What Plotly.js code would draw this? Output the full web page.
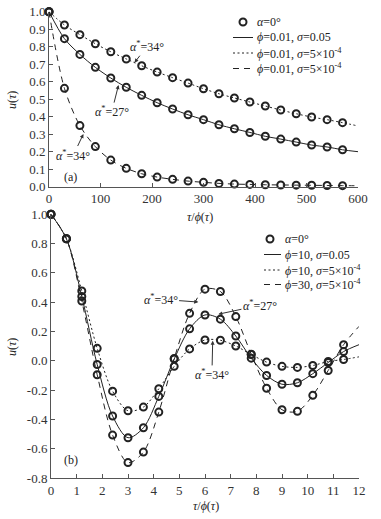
<!DOCTYPE html>
<html><head><meta charset="utf-8">
<script src="https://cdn.plot.ly/plotly-3.0.1.min.js"></script>
<style>html,body{margin:0;padding:0;background:#fff;}</style>
</head><body><div id="chart" style="width:381px;height:519px;"></div>
<script>
// ---------- Panel (a) ----------
const topX = [0,30,60,90,120,150,180,210,240,270,300,330,360,390,420,450,480,510,540,570];
const topDotted = [1.0,0.924,0.869,0.817,0.771,0.730,0.691,0.655,0.623,0.592,0.560,0.531,0.507,0.484,0.461,0.438,0.417,0.398,0.383,0.366];
const topSolid  = [1.0,0.846,0.756,0.682,0.621,0.568,0.522,0.480,0.444,0.411,0.383,0.354,0.331,0.310,0.288,0.272,0.255,0.238,0.227,0.211];
const topDashed = [1.0,0.562,0.349,0.229,0.152,0.105,0.074,0.055,0.042,0.032,0.025,0.019,0.015,0.013,0.011,0.010,0.009,0.008,0.007,0.006];
const topLineX = [0,30,60,90,120,150,180,210,240,270,300,330,360,390,420,450,480,510,540,570,600];
const topDottedLine = [1.0,0.924,0.869,0.817,0.771,0.730,0.691,0.655,0.623,0.592,0.560,0.531,0.507,0.484,0.461,0.438,0.417,0.398,0.383,0.366,0.347];
const topSolidLine  = [1.0,0.846,0.756,0.682,0.621,0.568,0.522,0.480,0.444,0.411,0.383,0.354,0.331,0.310,0.288,0.272,0.255,0.238,0.227,0.211,0.200];
const topDashedLine = [1.0,0.562,0.349,0.229,0.152,0.105,0.074,0.055,0.042,0.032,0.025,0.019,0.015,0.013,0.011,0.010,0.009,0.008,0.007,0.006,0.005];
const topNames = ['<i>α</i>=0°','<i>ϕ</i>=0.01, <i>σ</i>=0.05','<i>ϕ</i>=0.01, <i>σ</i>=5×10<sup>-4</sup>','<i>ϕ</i>=0.01, <i>σ</i>=5×10<sup>-4</sup>'];
const topXTicks = [0,100,200,300,400,500,600];
const topYTicks = [0,0.1,0.2,0.3,0.4,0.5,0.6,0.7,0.8,0.9,1.0];
const topYLabels = ['0.0','0.1','0.2','0.3','0.4','0.5','0.6','0.7','0.8','0.9','1.0'];

// ---------- Panel (b) ----------
const botX = [0,0.6,1.2,1.8,2.4,3.0,3.6,4.2,4.8,5.4,6.0,6.6,7.2,7.8,8.4,9.0,9.6,10.2,10.8,11.4];
const botDotted = [1.0,0.833,0.477,0.085,-0.207,-0.341,-0.316,-0.191,-0.038,0.081,0.142,0.140,0.101,0.043,-0.009,-0.038,-0.045,-0.032,-0.005,0.009];
const botSolid  = [1.0,0.833,0.439,-0.025,-0.377,-0.525,-0.457,-0.243,0.012,0.218,0.313,0.284,0.169,0.018,-0.100,-0.160,-0.150,-0.088,-0.012,0.063];
const botDashed = [1.0,0.833,0.408,-0.095,-0.507,-0.695,-0.623,-0.350,0.016,0.324,0.489,0.473,0.302,0.045,-0.187,-0.334,-0.345,-0.236,-0.066,0.110];
const botLineX = [0,0.6,1.2,1.8,2.4,3.0,3.6,4.2,4.8,5.4,6.0,6.6,7.2,7.8,8.4,9.0,9.6,10.2,10.8,11.4,12];
const botDottedLine = [1.0,0.833,0.477,0.085,-0.207,-0.341,-0.316,-0.191,-0.038,0.081,0.142,0.140,0.101,0.043,-0.009,-0.038,-0.045,-0.032,-0.005,0.009,0.027];
const botSolidLine  = [1.0,0.833,0.439,-0.025,-0.377,-0.525,-0.457,-0.243,0.012,0.218,0.313,0.284,0.169,0.018,-0.100,-0.160,-0.150,-0.088,-0.012,0.063,0.110];
const botDashedLine = [1.0,0.833,0.408,-0.095,-0.507,-0.695,-0.623,-0.350,0.016,0.324,0.489,0.473,0.302,0.045,-0.187,-0.334,-0.345,-0.236,-0.066,0.110,0.235];
const botNames = ['<i>α</i>=0°','<i>ϕ</i>=10, <i>σ</i>=0.05','<i>ϕ</i>=10, <i>σ</i>=5×10<sup>-4</sup>','<i>ϕ</i>=30, <i>σ</i>=5×10<sup>-4</sup>'];
const botXTicks = [0,1,2,3,4,5,6,7,8,9,10,11,12];
const botYTicks = [-0.8,-0.6,-0.4,-0.2,0,0.2,0.4,0.6,0.8,1.0];
const botYLabels = ['-0.8','-0.6','-0.4','-0.2','0.0','0.2','0.4','0.6','0.8','1.0'];

// ---------- styling ----------
const FONT = 'Liberation Serif, Times New Roman, DejaVu Serif, serif';
const INK = '#222';
const DOT = '2px,2.5px';
const DASH = '6px,5px';
const STYLES = ['solid', DOT, DASH];

function lineTrace(x, y, dash, name, xa, ya) {
  return {x: x, y: y, type: 'scatter', mode: 'lines', name: name, xaxis: xa, yaxis: ya,
    showlegend: false, cliponaxis: false, hoverinfo: 'skip',
    line: {color: INK, width: 1, dash: dash, shape: 'spline', smoothing: 0.9}};
}
function markTrace(x, y, name, xa, ya) {
  return {x: x, y: y, type: 'scatter', mode: 'markers', name: name, xaxis: xa, yaxis: ya,
    showlegend: false, cliponaxis: false, hoverinfo: 'skip',
    marker: {symbol: 'circle-open', size: 7, color: INK, line: {width: 2, color: INK}}};
}

const data = [
  lineTrace(topLineX, topSolidLine, STYLES[0], topNames[1], 'x', 'y'),
  lineTrace(topLineX, topDottedLine, STYLES[1], topNames[2], 'x', 'y'),
  lineTrace(topLineX, topDashedLine, STYLES[2], topNames[3], 'x', 'y'),
  markTrace(topX, topDotted, topNames[0], 'x', 'y'),
  markTrace(topX, topSolid, topNames[0], 'x', 'y'),
  markTrace(topX, topDashed, topNames[0], 'x', 'y'),
  lineTrace(botLineX, botSolidLine, STYLES[0], botNames[1], 'x2', 'y2'),
  lineTrace(botLineX, botDottedLine, STYLES[1], botNames[2], 'x2', 'y2'),
  lineTrace(botLineX, botDashedLine, STYLES[2], botNames[3], 'x2', 'y2'),
  markTrace(botX, botDotted, botNames[0], 'x2', 'y2'),
  markTrace(botX, botSolid, botNames[0], 'x2', 'y2'),
  markTrace(botX, botDashed, botNames[0], 'x2', 'y2')
];

const W = 381, H = 519;
function axisCommon() {
  return {showline: true, linecolor: '#555', linewidth: 1, ticks: 'inside', ticklen: 4,
    tickcolor: '#555', tickwidth: 1, showgrid: false, zeroline: false, fixedrange: true,
    tickfont: {family: FONT, size: 13, color: '#333'}};
}
const xa1 = Object.assign(axisCommon(), {domain: [49/W, 358/W], range: [0, 600], tickvals: topXTicks, anchor: 'y'});
const ya1 = Object.assign(axisCommon(), {domain: [1-186.7/H, 1-11.7/H], range: [0, 1], tickvals: topYTicks, ticktext: topYLabels, anchor: 'x'});
const xa2 = Object.assign(axisCommon(), {domain: [51/W, 359/W], range: [0, 12], tickvals: botXTicks, anchor: 'y2'});
const ya2 = Object.assign(axisCommon(), {domain: [1-478/H, 1-214.3/H], range: [-0.8, 1.0], tickvals: botYTicks, ticktext: botYLabels, anchor: 'x2'});

const af = {family: FONT, size: 12, color: INK};
function arrowAnn(x, y, ax, ay, xr, yr, text) {
  return {x: x, y: y, ax: ax, ay: ay, xref: xr, yref: yr, axref: xr, ayref: yr, text: text,
    showarrow: true, arrowhead: 2, arrowsize: 0.8, arrowwidth: 1, arrowcolor: '#333',
    standoff: 0, startstandoff: 0, font: af};
}
function textAnn(x, y, xr, yr, text, angle, anchor) {
  return {x: x, y: y, xref: xr, yref: yr, text: text, showarrow: false, font: af,
    textangle: angle || 0, xanchor: anchor || 'center', yanchor: 'middle'};
}
const A34 = '<i>α</i><sup>*</sup>=34°', A27 = '<i>α</i><sup>*</sup>=27°';
const annotations = [
  arrowAnn(166, 0.709, 190, 0.80, 'x', 'y', A34),
  arrowAnn(135, 0.581, 122, 0.429, 'x', 'y', A27),
  arrowAnn(66.8, 0.301, 47.3, 0.181, 'x', 'y', A34),
  textAnn(41, 0.057, 'x', 'y', '(a)'),
  arrowAnn(5.74, 0.401, 4.27, 0.42, 'x2', 'y2', A34),
  arrowAnn(6.52, 0.318, 8.14, 0.379, 'x2', 'y2', A27),
  arrowAnn(6.3, 0.137, 6.27, -0.093, 'x2', 'y2', A34),
  textAnn(0.77, -0.675, 'x2', 'y2', '(b)'),
  textAnn(200/W, 1-217/H, 'paper', 'paper', '<i>τ</i>/<i>ϕ</i>(<i>τ</i>)'),
  textAnn(12/W, 1-100/H, 'paper', 'paper', '<i>u</i>(<i>τ</i>)', -90),
  textAnn(206/W, 1-506/H, 'paper', 'paper', '<i>τ</i>/<i>ϕ</i>(<i>τ</i>)'),
  textAnn(12/W, 1-347/H, 'paper', 'paper', '<i>u</i>(<i>τ</i>)', -90)
];

// ---------- compact legends (keys drawn as shapes, labels as text) ----------
const shapes = [];
function addLegend(names, rows, keyX0, keyX1, markX, textX) {
  const r = 3.5;
  shapes.push({type: 'circle', xref: 'paper', yref: 'paper',
    x0: (markX - r)/W, x1: (markX + r)/W, y0: 1-(rows[0] + r)/H, y1: 1-(rows[0] - r)/H,
    line: {color: INK, width: 2}, fillcolor: 'rgba(0,0,0,0)'});
  for (let i = 1; i < 4; i++) {
    shapes.push({type: 'line', xref: 'paper', yref: 'paper',
      x0: keyX0/W, x1: keyX1/W, y0: 1-rows[i]/H, y1: 1-rows[i]/H,
      line: {color: INK, width: 1, dash: STYLES[i-1]}});
  }
  for (let i = 0; i < 4; i++) {
    annotations.push(textAnn(textX/W, 1-rows[i]/H, 'paper', 'paper', names[i], 0, 'left'));
  }
}
addLegend(topNames, [22, 37.5, 53, 68.5], 233, 253, 243, 255);
addLegend(botNames, [239, 254.5, 270, 284.5], 264, 281, 270, 283);

const layout = {
  width: W, height: H, margin: {l: 0, r: 0, t: 0, b: 0, pad: 0},
  paper_bgcolor: '#fff', plot_bgcolor: 'rgba(0,0,0,0)',
  font: {family: FONT, size: 12, color: INK},
  showlegend: false,
  xaxis: xa1, yaxis: ya1, xaxis2: xa2, yaxis2: ya2,
  annotations: annotations, shapes: shapes
};
Plotly.newPlot('chart', data, layout, {staticPlot: true, displayModeBar: false});
</script></body></html>
